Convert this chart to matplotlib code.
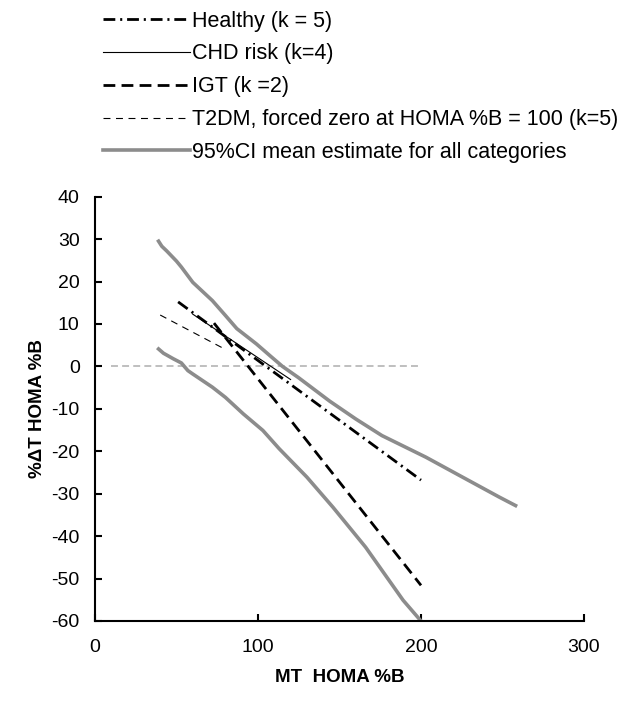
import matplotlib
matplotlib.use("Agg")
import matplotlib.pyplot as plt

plt.rcParams["font.family"] = ["Liberation Sans", "DejaVu Sans"]
plt.rcParams["lines.scale_dashes"] = False
plt.rcParams["axes.unicode_minus"] = False

# values
healthy_x = [51, 200]
healthy_y = [15.2, -26.8]
chd_x = [60, 120]
chd_y = [12.3, -3.1]
igt_x = [73, 200]
igt_y = [10.2, -51.6]
t2dm_x = [40, 78]
t2dm_y = [12.1, 4.4]
zero_x = [10, 200]
zero_y = [0, 0]
ci_hi_x = [39, 41, 44, 50, 53, 60, 72, 80, 87, 99, 108, 115, 125, 144, 160, 176, 203, 225, 248, 258]
ci_hi_y = [29.5, 28.3, 27.2, 24.8, 23.4, 19.8, 15.5, 12.0, 8.9, 5.3, 2.3, 0.0, -2.7, -8.2, -12.4,
           -16.3, -21.4, -26.0, -30.8, -32.8]
ci_lo_x = [39, 42, 48, 53, 57, 60, 72, 80, 91, 103, 113, 130, 146, 166, 189, 200]
ci_lo_y = [4.1, 3.1, 1.8, 0.8, -1.0, -1.8, -4.9, -7.3, -11.2, -15.1, -19.4, -26.1, -33.2, -42.6,
           -55.1, -60.0]

GREY = "#8c8c8c"

fig = plt.figure(figsize=(6.18, 7.04), dpi=100)
ax = fig.add_axes([0.1537, 0.1179, 0.7913, 0.6028])

ax.plot(zero_x, zero_y, color="#b4b4b4", lw=1.2, dashes=(5, 3))
h1, = ax.plot(healthy_x, healthy_y, color="black", lw=2.0, dashes=(8.5, 3.5, 1.5, 3.5),
              label="Healthy (k = 5)")
h2, = ax.plot(chd_x, chd_y, color="black", lw=0.8, label="CHD risk (k=4)")
h3, = ax.plot(igt_x, igt_y, color="black", lw=2.0, dashes=(8.5, 4.5), label="IGT (k =2)")
h4, = ax.plot(t2dm_x, t2dm_y, color="black", lw=0.8, dashes=(5, 4),
              label="T2DM, forced zero at HOMA %B = 100 (k=5)")
h5, = ax.plot(ci_hi_x, ci_hi_y, color=GREY, lw=2.6,
              label="95%CI mean estimate for all categories")
ax.plot(ci_lo_x, ci_lo_y, color=GREY, lw=2.6)

ax.set_xlim(0, 300)
ax.set_ylim(-60, 40)
ax.set_xticks([0, 100, 200, 300])
ax.set_yticks(range(-60, 41, 10))
for s in ("top", "right"):
    ax.spines[s].set_visible(False)
for s in ("left", "bottom"):
    ax.spines[s].set_linewidth(1.5)
ax.tick_params(direction="in", length=5, width=1.5, labelsize=14)
ax.tick_params(axis="y", pad=11)
ax.tick_params(axis="x", pad=13)
ax.set_xlabel("MT  HOMA %B", fontsize=13.5, fontweight="bold", labelpad=9)
ax.set_ylabel("%ΔT HOMA %B", fontsize=13.5, fontweight="bold", labelpad=4)

fig.legend(handles=[h1, h2, h3, h4, h5], loc="upper left",
           bbox_to_anchor=(0.166, 0.985), frameon=False, fontsize=15.5,
           handlelength=4.05, handletextpad=0.12, labelspacing=0.55,
           borderpad=0, borderaxespad=0)

fig.savefig("out.png", dpi=100)
